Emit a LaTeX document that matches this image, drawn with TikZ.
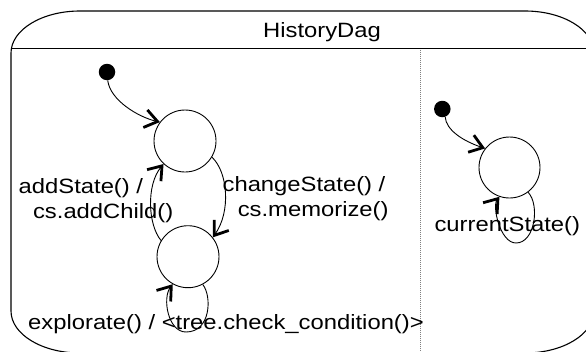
\documentclass[tikz,border=0pt]{standalone}
\usepackage{fontspec}
\setmainfont{Liberation Sans}[FakeStretch=1.15]
\usetikzlibrary{arrows.meta}
\tikzset{
  lbl/.style={font=\fontsize{20.7}{24}\selectfont, anchor=base, inner sep=0pt},
  statec/.style={circle, draw, line width=0.9pt, minimum size=62pt, inner sep=0pt},
  initdot/.style={circle, fill=black, minimum size=16.5pt, inner sep=0pt},
  trans/.style={line width=0.9pt, -{Straight Barb[length=12.5pt,width=18pt,line width=2.8pt]}},
}
\begin{document}
\begin{tikzpicture}[x=1pt,y=-1pt]
\useasboundingbox (0,0) rectangle (586,351);
\clip (0,0) rectangle (586,351);
% outer composite state
\draw[line width=1.1pt] (11,53) .. controls (11,29.8) and (41.9,11) .. (80,11) -- (525,11)
  .. controls (563.1,11) and (594,29.8) .. (594,53) -- (594,311)
  .. controls (594,334.2) and (563.1,353) .. (525,353) -- (80,353)
  .. controls (41.9,353) and (11,334.2) .. (11,311) -- cycle;
\draw[line width=1.1pt] (11.5,48.7) -- (593.5,48.7);
\draw[gray, line width=1pt, dash pattern=on 1pt off 1pt] (420,49.5) -- (420,351);
\node[lbl] (title) at (322,37.3) {HistoryDag};
% left region
\node[initdot] (i1) at (107,72) {};
\node[statec] (s1) at (185,141) {};
\node[statec] (s2) at (188,256.7) {};
\draw[trans] (i1.-85) .. controls (110,100) and (138,117) .. (s1.143);
\draw[trans] (s1.-31) .. controls (228,172) and (231,212) .. (s2.38);
\draw[trans] (s2.149) .. controls (148,225) and (146,185) .. (s1.227);
\draw[trans] (s2.-62) .. controls (212,296) and (211,332) .. (186,332)
  .. controls (168,332) and (162,298) .. (s2.-119);
\node[lbl] (l1a) at (80.9,193.3) {addState() /};
\node[lbl] (l1b) at (103.2,218.3) {cs.addChild()};
\node[lbl] (l2a) at (304,191.7) {changeState() /};
\node[lbl] (l2b) at (313.2,216.7) {cs.memorize()};
\node[lbl] (l3) at (226,329) {explorate() / <tree.check\_condition()>};
% right region
\node[initdot] (i2) at (442.3,109) {};
\node[statec, minimum size=61pt] (s3) at (509.5,167.5) {};
\draw[trans] (i2.-70) .. controls (446,130) and (463,141) .. (s3.142);
\draw[trans] (s3.-53) .. controls (540,205) and (535,243) .. (516,243)
  .. controls (500,243) and (492,206) .. (s3.-109);
\node[lbl] (l4) at (507.3,231.7) {currentState()};
\end{tikzpicture}
\end{document}
